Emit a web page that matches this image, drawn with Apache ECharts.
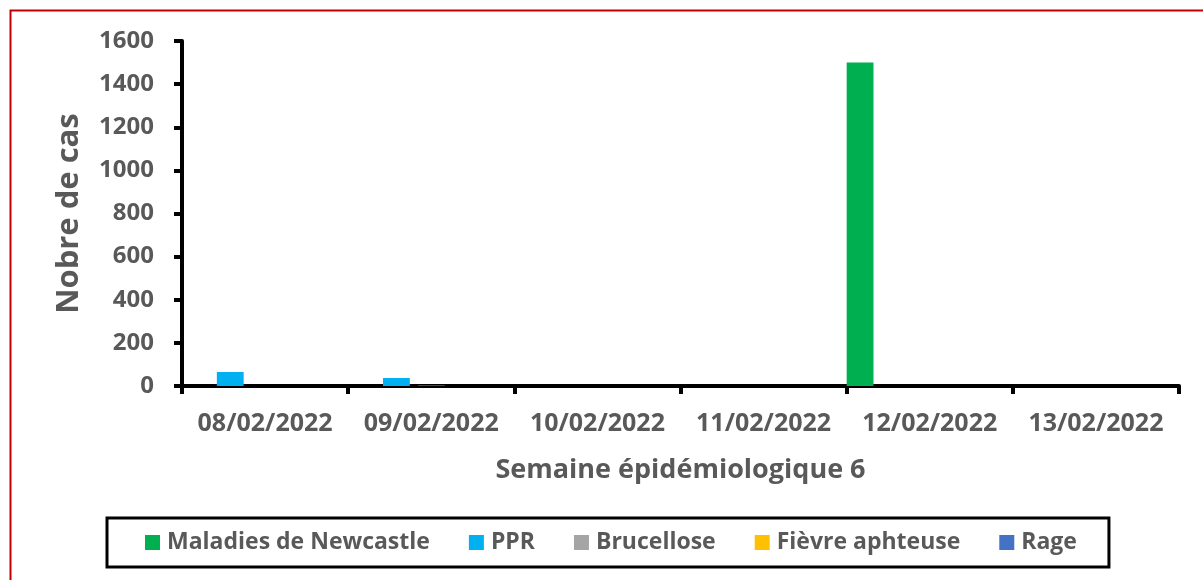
<!DOCTYPE html>
<html>
<head>
<meta charset="utf-8">
<script src="https://cdn.jsdelivr.net/npm/echarts@6/dist/echarts.min.js"></script>
<style>
html,body{margin:0;padding:0;background:#fff;}
#chart{width:1203px;height:580px;}
</style>
</head>
<body>
<div id="chart"></div>
<script>
const categories = ['08/02/2022','09/02/2022','10/02/2022','11/02/2022','12/02/2022','13/02/2022'];
const newcastle = [0, 0, 0, 0, 1500, 0];
const ppr = [65, 37, 0, 0, 0, 0];
const brucellose = [0, 2, 0, 0, 0, 0];
const fievre = [0, 0, 0, 0, 0, 0];
const rage = [0, 0, 0, 0, 0, 0];
const seriesNames = ['Maladies de Newcastle','PPR','Brucellose','Fièvre aphteuse','Rage'];
const seriesColors = ['#00B050','#00B0F0','#A5A5A5','#FFC000','#4472C4'];
const seriesData = [newcastle, ppr, brucellose, fievre, rage];

const FONT = '"Open Sans", sans-serif';
const GREY = '#595959';
const chart = echarts.init(document.getElementById('chart'));
chart.setOption({
  animation: false,
  backgroundColor: '#fff',
  graphic: [{
    type: 'rect', left: 8, top: 8, z: -10,
    shape: {width: 1220, height: 600},
    style: {fill: 'none', stroke: '#C00000', lineWidth: 2}
  }],
  grid: {left: 182, right: 24, top: 41, bottom: 194, containLabel: false},
  legend: {
    left: 107, top: 518,
    padding: [13, 32, 13, 38],
    borderColor: '#000', borderWidth: 3,
    itemGap: 39, itemWidth: 15, itemHeight: 15,
    icon: 'rect',
    textStyle: {fontFamily: FONT, fontWeight: 'bold', fontSize: 23, color: GREY, padding: [0,0,0,2]},
    data: seriesNames
  },
  xAxis: {
    type: 'category', data: categories,
    boundaryGap: true,
    name: 'Semaine épidémiologique 6', nameLocation: 'middle', nameGap: 71,
    nameTextStyle: {fontFamily: FONT, fontWeight: 'bold', fontSize: 27, color: GREY},
    axisLine: {lineStyle: {color: '#000', width: 4}},
    axisTick: {show: true, interval: 0, length: 8, lineStyle: {color: '#000', width: 4}},
    axisLabel: {interval: 0, hideOverlap: false, fontFamily: FONT, fontWeight: 'bold', fontSize: 25, color: GREY, margin: 25}
  },
  yAxis: {
    type: 'value', min: 0, max: 1600, interval: 200,
    name: 'Nobre de cas', nameLocation: 'middle', nameGap: 97, nameRotate: 90,
    nameTextStyle: {fontFamily: FONT, fontWeight: 'bold', fontSize: 31, color: GREY},
    axisLine: {show: true, lineStyle: {color: '#000', width: 4}},
    axisTick: {show: true, length: 8, lineStyle: {color: '#000', width: 4}},
    splitLine: {show: false},
    axisLabel: {fontFamily: FONT, fontWeight: 'bold', fontSize: 24, color: GREY, margin: 28,
      formatter: v => String(v)}
  },
  series: seriesNames.map((n, i) => ({
    name: n, type: 'bar', data: seriesData[i],
    itemStyle: {color: seriesColors[i]},
    barGap: '30%', barCategoryGap: '0%'
  }))
});
</script>
</body>
</html>
